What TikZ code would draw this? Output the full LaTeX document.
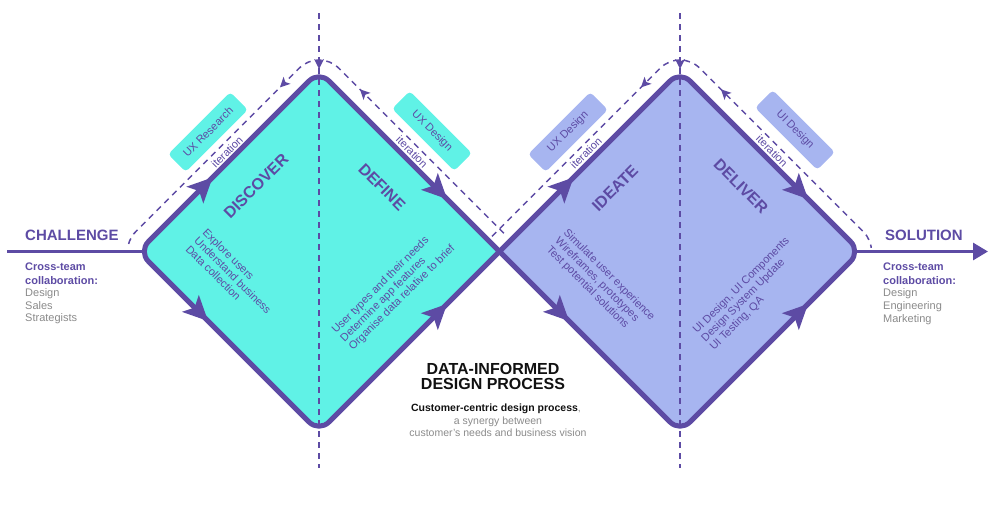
\documentclass[tikz,border=0pt]{standalone}
\usepackage{fontspec}
\setmainfont{Liberation Sans}
\usetikzlibrary{calc,arrows.meta}
\definecolor{vio}{RGB}{93,75,164}
\definecolor{cyanf}{RGB}{96,242,230}
\definecolor{perif}{RGB}{167,181,240}
\definecolor{greyt}{RGB}{138,138,138}
\definecolor{ink}{RGB}{17,17,17}
\tikzset{
  diam/.style={draw=vio, line width=5pt, rounded corners=14pt, line join=round},
  dashv/.style={draw=vio, line width=1.5pt, dash pattern=on 6pt off 5pt},
  loopd/.style={draw=vio, line width=1.5pt, dash pattern=on 6pt off 5pt, rounded corners=28pt},
  tag/.style={rounded corners=4pt, minimum width=88pt, minimum height=25pt, inner sep=0pt, text=vio, font=\fontsize{11}{12}\selectfont},
  iter/.style={text=vio, font=\fontsize{11}{12}\selectfont, inner sep=0pt},
  phase/.style={text=vio, font=\bfseries\fontsize{16}{18}\selectfont, inner sep=0pt},
  bullets/.style={text=vio, font=\fontsize{11}{12}\selectfont, align=left, inner sep=0pt, anchor=north west},
  side/.style={inner sep=0pt, anchor=base west, font=\fontsize{11}{13}\selectfont},
  pics/bigtip/.style={code={\fill[vio] (0,0) -- (-25,12) -- (-19,0) -- (-25,-12) -- cycle;}},
  pics/smalltip/.style={code={\fill[vio] (0,0) -- (-10,5) -- (-7.5,0) -- (-10,-5) -- cycle;}},
}
\begin{document}
\begin{tikzpicture}[x=1pt,y=-1pt]
\useasboundingbox (0,0) rectangle (1000,504);
% key points
\coordinate (LT) at (319,71);
\coordinate (LR) at (499.5,251.5);
\coordinate (LB) at (319,432);
\coordinate (LL) at (138.5,251.5);
\coordinate (LC) at (319,251.5);
\coordinate (RT) at (680,71);
\coordinate (RR) at (860.5,251.5);
\coordinate (RB) at (680,432);
\coordinate (RC) at (680,251.5);
\coordinate (startL) at (7,251.5);
\coordinate (endR) at (988,251.5);
% main horizontal line
\draw[vio, line width=3pt] (startL) -- (LC);
\draw[vio, line width=3pt, -{Triangle[length=15pt,width=17pt]}] (RC) -- (endR);
% diamond fills (sharp where the two diamonds meet)
\fill[cyanf, rounded corners=14pt] (LR) -- (LB) -- (LL) -- (LT) -- (LR);
\fill[perif, rounded corners=14pt] (LR) -- (RT) -- (RR) -- (RB) -- (LR);
% vertical dashed lines
\draw[dashv] (319,13) -- (319,468);
\draw[dashv] (680,13) -- (680,468);
% diamond outlines
\draw[diam] (LR) -- (LB) -- (LL) -- (LT) -- (LR);
\draw[diam] (LR) -- (RT) -- (RR) -- (RB) -- (LR);
% iteration loops
\begin{scope}
  \clip (0,0) rectangle (1000,247);
  \draw[loopd] (145.9,281.5) -- (115.9,251.5) -- (319,48.4) -- (507,236.4);
  \draw[loopd] (492,236.4) -- (680,48.4) -- (883.1,251.5) -- (853.1,281.5);
\end{scope}
% small arrow tips
\pic[rotate=-90] at (319,69) {smalltip};
\pic[rotate=-90] at (680,69) {smalltip};
\pic[rotate=225] at (280,87.4) {smalltip};
\pic[rotate=135] at (360,89.4) {smalltip};
\pic[rotate=225] at (641,87.4) {smalltip};
\pic[rotate=135] at (721,89.4) {smalltip};
% big arrow tips on diamond edges
\pic[rotate=45] at (212.5,177.5) {bigtip};
\pic[rotate=-45] at (208,321) {bigtip};
\pic[rotate=-45] at (447,199) {bigtip};
\pic[rotate=45] at (447,304) {bigtip};
\pic[rotate=45] at (573.5,177.5) {bigtip};
\pic[rotate=-45] at (569,321) {bigtip};
\pic[rotate=-45] at (808,199) {bigtip};
\pic[rotate=45] at (808,304) {bigtip};
% tags
\node[tag, fill=cyanf, rotate=45] (tagA) at (208,132) {UX Research};
\node[tag, fill=cyanf, rotate=-45] (tagB) at (432,131) {UX Design};
\node[tag, fill=perif, rotate=45] (tagC) at (568,132) {UX Design};
\node[tag, fill=perif, rotate=-45] (tagD) at (795,130) {UI Design};
% iteration labels
\node[iter, rotate=45] (it1) at (227,152) {iteration};
\node[iter, rotate=-45] (it2) at (412,152) {iteration};
\node[iter, rotate=45] (it3) at (586,153) {iteration};
\node[iter, rotate=-45] (it4) at (772,151) {iteration};
% phase labels
\node[phase, rotate=45] (discover) at (256,186) {DISCOVER};
\node[phase, rotate=-45] (define) at (382,187) {DEFINE};
\node[phase, rotate=45] (ideate) at (615,188) {IDEATE};
\node[phase, rotate=-45] (deliver) at (741,186) {DELIVER};
% bullet texts
\node[bullets, rotate=-45] (b1) at (207.7,227.3) {Explore users\\Understand business\\Data collection};
\node[bullets, rotate=45] (b2) at (330.3,328.3) {User types and their needs\\Determine app features\\Organise data relative to brief};
\node[bullets, rotate=-45] (b3) at (568.7,227.3) {Simulate user experience\\Wireframes, prototypes\\Test potential solutions};
\node[bullets, rotate=45] (b4) at (691.3,328.3) {UI Design, UI Components\\Design System Update\\UI Testing, QA};
% center text
\node[inner sep=0pt, anchor=base, text=ink, font=\bfseries\fontsize{16}{18}\selectfont] (t1) at (493,374) {DATA-INFORMED};
\node[inner sep=0pt, anchor=base, text=ink, font=\bfseries\fontsize{16}{18}\selectfont] (t2) at (493,389.5) {DESIGN PROCESS};
\node[inner sep=0pt, anchor=base, text=greyt, font=\fontsize{10.5}{12}\selectfont] (s1) at (496,411.5) {\textcolor{ink}{\bfseries Customer-centric design process},};
\node[inner sep=0pt, anchor=base, text=greyt, font=\fontsize{10.5}{12}\selectfont] (s2) at (498,424) {a synergy between};
\node[inner sep=0pt, anchor=base, text=greyt, font=\fontsize{10.5}{12}\selectfont] (s3) at (498,436) {customer's needs and business vision};
% left side
\node[side, text=vio, font=\bfseries\fontsize{15}{18}\selectfont] (chal) at (25,240) {CHALLENGE};
\node[side, text=vio, font=\bfseries\fontsize{11}{13}\selectfont] (lc1) at (25,270.7) {Cross-team};
\node[side, text=vio, font=\bfseries\fontsize{11}{13}\selectfont] (lc2) at (25,284) {collaboration:};
\node[side, text=greyt] (lc3) at (25,296.5) {Design};
\node[side, text=greyt] (lc4) at (25,309.3) {Sales};
\node[side, text=greyt] (lc5) at (25,321.7) {Strategists};
% right side
\node[side, text=vio, font=\bfseries\fontsize{15}{18}\selectfont] (sol) at (885,240) {SOLUTION};
\node[side, text=vio, font=\bfseries\fontsize{11}{13}\selectfont] (rc1) at (883,270.7) {Cross-team};
\node[side, text=vio, font=\bfseries\fontsize{11}{13}\selectfont] (rc2) at (883,284) {collaboration:};
\node[side, text=greyt] (rc3) at (883,296.7) {Design};
\node[side, text=greyt] (rc4) at (883,309.7) {Engineering};
\node[side, text=greyt] (rc5) at (883,322.3) {Marketing};
\end{tikzpicture}
\end{document}
